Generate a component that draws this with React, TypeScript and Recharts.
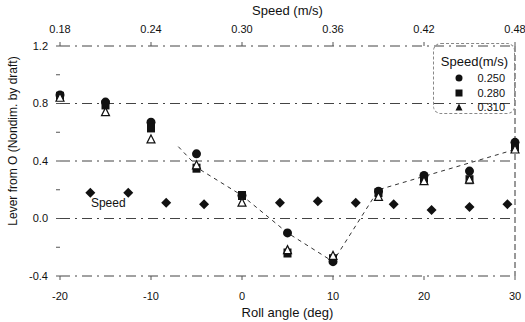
import { ComposedChart, Scatter, Line, XAxis, YAxis, ReferenceLine, ReferenceDot, Label } from 'recharts'

const rollAngles = [-20, -15, -10, -5, 0, 5, 10, 15, 20, 25, 30]
const lever250 = [0.86, 0.81, 0.67, 0.45, 0.16, -0.1, -0.3, 0.19, 0.3, 0.33, 0.53]
const lever280 = [0.85, 0.79, 0.63, 0.35, 0.16, -0.24, -0.28, 0.18, 0.28, 0.27, 0.5]
const lever310 = [0.84, 0.74, 0.55, 0.37, 0.11, -0.22, -0.26, 0.15, 0.26, 0.27, 0.48]

// diamonds are plotted against the top (speed) axis
const speedValues = [0.2, 0.225, 0.25, 0.275, 0.325, 0.35, 0.375, 0.4, 0.425, 0.45, 0.475]
const speedLever = [0.18, 0.18, 0.11, 0.1, 0.11, 0.12, 0.11, 0.1, 0.06, 0.08, 0.1]

const trendAngles = [-7, -4.6, 0, 5, 10, 15, 30]
const trendLever = [0.5, 0.34, 0.16, -0.1, -0.3, 0.2, 0.48]

const rollTicks = [-20, -10, 0, 10, 20, 30]
const speedTicks = [0.18, 0.24, 0.3, 0.36, 0.42, 0.48]
const leverTicks = [-0.4, -0.2, 0, 0.2, 0.4, 0.6, 0.8, 1.0, 1.2]
const leverMajor = [-0.4, 0, 0.4, 0.8, 1.2]

const legendItems = [
  { label: '0.250', shape: 'circle' },
  { label: '0.280', shape: 'square' },
  { label: '0.310', shape: 'triangle' },
]

const FONT = '"Liberation Sans", Arial, sans-serif'
const INK = '#111'

const toPoints = (xs: number[], ys: number[]) => xs.map((x, i) => ({ x, y: ys[i] }))

const Circle = (p: any) => <circle cx={p.cx} cy={p.cy} r={4.5} fill={INK} />
const Square = (p: any) => <rect x={p.cx - 4} y={p.cy - 4.5} width={8} height={9} fill={INK} />
const Triangle = (p: any) => (
  <path d={`M${p.cx},${p.cy - 4.5}L${p.cx + 4},${p.cy + 3.5}L${p.cx - 4},${p.cy + 3.5}Z`} fill='#fff' stroke={INK} strokeWidth={1.2} />
)
const Diamond = (p: any) => (
  <path d={`M${p.cx},${p.cy - 5}L${p.cx + 5},${p.cy}L${p.cx},${p.cy + 5}L${p.cx - 5},${p.cy}Z`} fill={INK} />
)

const LegendIcon = ({ shape }: { shape: string }) => (
  <svg width={10} height={10}>
    {shape === 'circle' && <circle cx={5} cy={5} r={3.5} fill={INK} />}
    {shape === 'square' && <rect x={1.5} y={1.5} width={7} height={7} fill={INK} />}
    {shape === 'triangle' && <path d='M5,1.5L8.5,8.5L1.5,8.5Z' fill={INK} />}
  </svg>
)

const fmtLever = (v: number) => (Math.round(v * 10) % 4 === 0 ? v.toFixed(1) : '')

const YTitle = ({ viewBox }: any) => {
  const x = 13
  const y = viewBox.y + viewBox.height / 2 - 20
  return (
    <text x={x} y={y} transform={`rotate(-90 ${x} ${y})`} textAnchor='middle' dominantBaseline='central' fontSize={12} fill={INK} fontFamily={FONT}>
      Lever from O (Nondim. by draft)
    </text>
  )
}

export default function App() {
  return (
    <div style={{ position: 'absolute', left: 0, top: 0, width: 525, height: 322, background: '#fff', fontFamily: FONT }}>
      <ComposedChart width={525} height={322} margin={{ top: 0, right: 0, bottom: 0, left: 0 }}>
        <XAxis xAxisId='roll' dataKey='x' type='number' domain={[-20, 30]} ticks={rollTicks} height={46}
          axisLine={false} tickSize={4} tickMargin={12} tickLine={{ stroke: '#555' }}
          tick={{ fontSize: 11, fill: INK, fontFamily: FONT }}>
          <Label value='Roll angle (deg)' position='insideBottom' offset={5} style={{ fontSize: 13, fill: INK, fontFamily: FONT }} />
        </XAxis>
        <XAxis xAxisId='speed' dataKey='x' orientation='top' type='number' domain={[0.18, 0.48]} ticks={speedTicks} height={46}
          axisLine={false} tickSize={4} tickMargin={9} tickLine={{ stroke: '#555' }}
          tickFormatter={(v: number) => v.toFixed(2)}
          tick={{ fontSize: 11, fill: INK, fontFamily: FONT }}>
          <Label value='Speed (m/s)' position='insideTop' offset={6} style={{ fontSize: 13, fill: INK, fontFamily: FONT }} />
        </XAxis>
        <YAxis yAxisId='lever' type='number' domain={[-0.4, 1.2]} ticks={leverTicks} width={60}
          axisLine={false} tickSize={4} tickMargin={8} tickLine={{ stroke: '#555' }}
          tickFormatter={fmtLever} tick={{ fontSize: 11, fill: INK, fontFamily: FONT }}>
          <Label content={YTitle} />
        </YAxis>
        <YAxis yAxisId='right' orientation='right' type='number' domain={[-0.4, 1.2]} ticks={leverTicks} width={10}
          axisLine={{ stroke: '#333', strokeDasharray: '6 3' }} tickSize={4} tickLine={{ stroke: '#555' }}
          tickFormatter={() => ''} />

        {leverMajor.map((v) => (
          <ReferenceLine key={v} xAxisId='roll' yAxisId='lever' y={v} stroke='#444' strokeDasharray='10 5 2 5' />
        ))}

        <Line xAxisId='roll' yAxisId='lever' data={toPoints(trendAngles, trendLever)} dataKey='y' type='linear'
          stroke='#333' strokeWidth={1} strokeDasharray='4 4' dot={false} isAnimationActive={false} />

        <Scatter xAxisId='speed' yAxisId='lever' data={toPoints(speedValues, speedLever)} dataKey='y' shape={Diamond} isAnimationActive={false} />
        <Scatter xAxisId='roll' yAxisId='lever' data={toPoints(rollAngles, lever250)} dataKey='y' shape={Circle} isAnimationActive={false} />
        <Scatter xAxisId='roll' yAxisId='lever' data={toPoints(rollAngles, lever280)} dataKey='y' shape={Square} isAnimationActive={false} />
        <Scatter xAxisId='roll' yAxisId='lever' data={toPoints(rollAngles, lever310)} dataKey='y' shape={Triangle} isAnimationActive={false} />

        <ReferenceDot xAxisId='roll' yAxisId='lever' x={-14.7} y={0.11} r={0} fill='none' stroke='none'
          label={{ value: 'Speed', position: 'center', fontSize: 12, fill: INK, fontFamily: FONT }} />
      </ComposedChart>

      <div style={{
        position: 'absolute', left: 433, top: 43, width: 82, height: 71, border: '1px dashed #888',
        borderRadius: 8, boxSizing: 'border-box', fontSize: 11, color: INK,
      }}>
        <div style={{ position: 'absolute', right: 6, top: 11, fontSize: 13, lineHeight: '14px' }}>Speed(m/s)</div>
        {legendItems.map((it, i) => (
          <div key={it.label} style={{ position: 'absolute', left: 0, right: 0, top: 27 + i * 14.5, height: 14, display: 'flex', alignItems: 'center' }}>
            <span style={{ marginLeft: 20, display: 'flex' }}><LegendIcon shape={it.shape} /></span>
            <span style={{ marginLeft: 'auto', paddingRight: 9, lineHeight: '14px' }}>{it.label}</span>
          </div>
        ))}
      </div>
    </div>
  )
}
